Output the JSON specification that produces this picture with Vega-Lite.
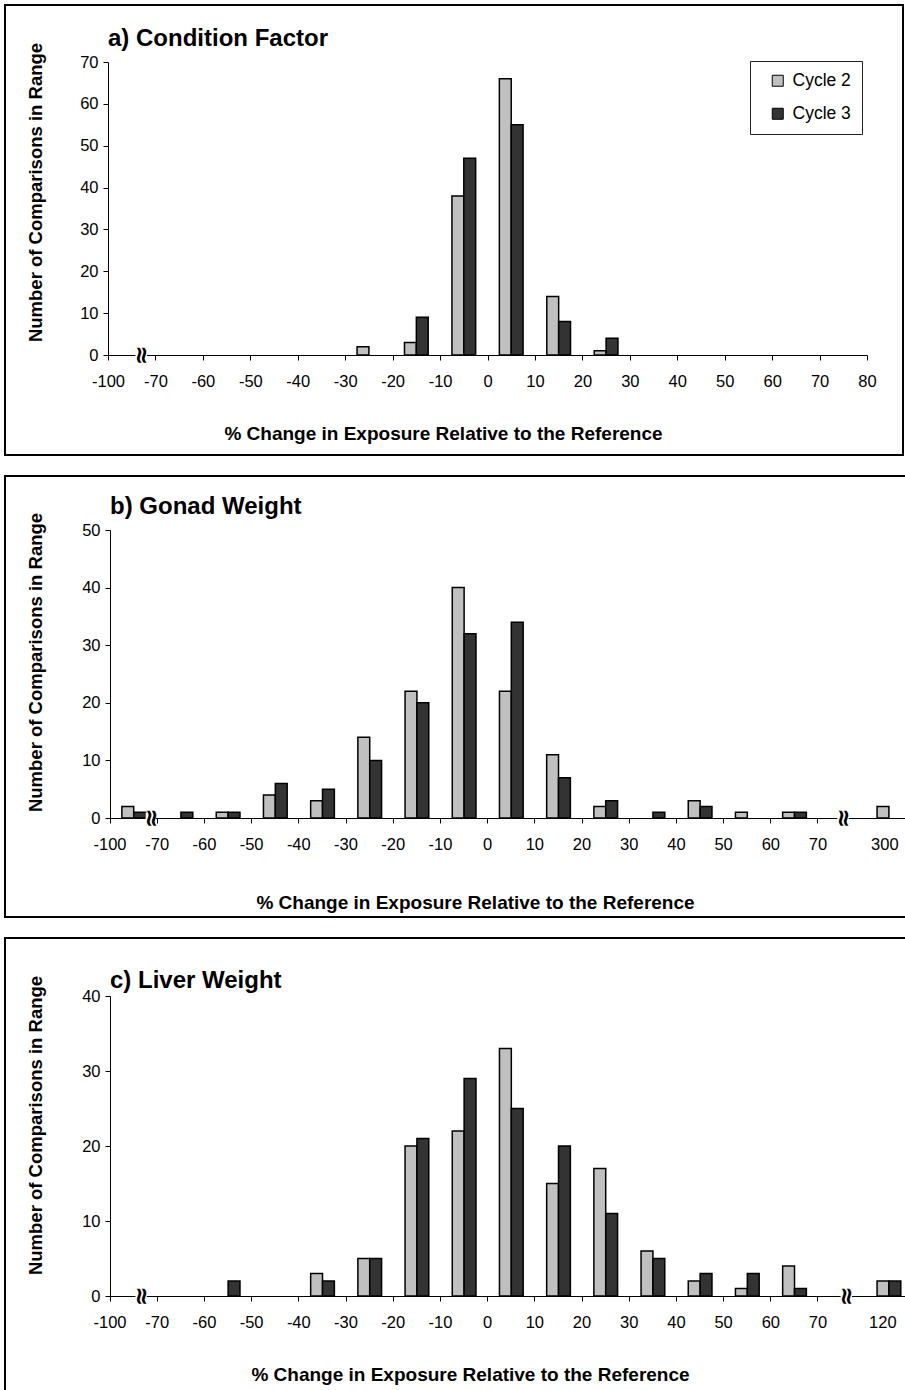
{
  "$schema": "https://vega.github.io/schema/vega-lite/v6.json",
  "padding": {"left": 4, "top": 4, "right": 0, "bottom": 0},
  "background": "white",
  "spacing": 19,
  "config": {
    "view": {"stroke": "black", "strokeWidth": 2},
    "font": "Liberation Sans",
    "axis": {"domainColor": "black", "tickColor": "black", "labelColor": "black", "titleColor": "black", "grid": false, "labelFont": "Liberation Sans", "titleFont": "Liberation Sans", "labelFontSize": 16.5, "tickSize": 5, "titleFontSize": 19, "titleFontWeight": "bold", "labelAngle": 0},
    "legend": {"labelFont": "Liberation Sans", "labelFontSize": 17.5, "labelColor": "black", "symbolType": "square", "symbolSize": 121, "symbolStrokeColor": "black", "symbolStrokeWidth": 1, "symbolOpacity": 1, "padding": 11, "rowPadding": 14, "strokeColor": "#222222", "fillColor": "white", "labelOffset": 6, "symbolOffset": 8},
    "text": {"font": "DejaVu Sans"}
  },
  "datasets": {
    "a": [
      {"bin": "-30", "cycle": "Cycle 2", "n": 2},
      {"bin": "-20", "cycle": "Cycle 2", "n": 3},
      {"bin": "-20", "cycle": "Cycle 3", "n": 9},
      {"bin": "-10", "cycle": "Cycle 2", "n": 38},
      {"bin": "-10", "cycle": "Cycle 3", "n": 47},
      {"bin": "0", "cycle": "Cycle 2", "n": 66},
      {"bin": "0", "cycle": "Cycle 3", "n": 55},
      {"bin": "10", "cycle": "Cycle 2", "n": 14},
      {"bin": "10", "cycle": "Cycle 3", "n": 8},
      {"bin": "20", "cycle": "Cycle 2", "n": 1},
      {"bin": "20", "cycle": "Cycle 3", "n": 4}
    ],
    "b": [
      {"bin": "-100", "cycle": "Cycle 2", "n": 2},
      {"bin": "-100", "cycle": "Cycle 3", "n": 1},
      {"bin": "-70", "cycle": "Cycle 3", "n": 1},
      {"bin": "-60", "cycle": "Cycle 2", "n": 1},
      {"bin": "-60", "cycle": "Cycle 3", "n": 1},
      {"bin": "-50", "cycle": "Cycle 2", "n": 4},
      {"bin": "-50", "cycle": "Cycle 3", "n": 6},
      {"bin": "-40", "cycle": "Cycle 2", "n": 3},
      {"bin": "-40", "cycle": "Cycle 3", "n": 5},
      {"bin": "-30", "cycle": "Cycle 2", "n": 14},
      {"bin": "-30", "cycle": "Cycle 3", "n": 10},
      {"bin": "-20", "cycle": "Cycle 2", "n": 22},
      {"bin": "-20", "cycle": "Cycle 3", "n": 20},
      {"bin": "-10", "cycle": "Cycle 2", "n": 40},
      {"bin": "-10", "cycle": "Cycle 3", "n": 32},
      {"bin": "0", "cycle": "Cycle 2", "n": 22},
      {"bin": "0", "cycle": "Cycle 3", "n": 34},
      {"bin": "10", "cycle": "Cycle 2", "n": 11},
      {"bin": "10", "cycle": "Cycle 3", "n": 7},
      {"bin": "20", "cycle": "Cycle 2", "n": 2},
      {"bin": "20", "cycle": "Cycle 3", "n": 3},
      {"bin": "30", "cycle": "Cycle 3", "n": 1},
      {"bin": "40", "cycle": "Cycle 2", "n": 3},
      {"bin": "40", "cycle": "Cycle 3", "n": 2},
      {"bin": "50", "cycle": "Cycle 2", "n": 1},
      {"bin": "60", "cycle": "Cycle 2", "n": 1},
      {"bin": "60", "cycle": "Cycle 3", "n": 1},
      {"bin": "300", "cycle": "Cycle 2", "n": 2}
    ],
    "c": [
      {"bin": "-60", "cycle": "Cycle 3", "n": 2},
      {"bin": "-40", "cycle": "Cycle 2", "n": 3},
      {"bin": "-40", "cycle": "Cycle 3", "n": 2},
      {"bin": "-30", "cycle": "Cycle 2", "n": 5},
      {"bin": "-30", "cycle": "Cycle 3", "n": 5},
      {"bin": "-20", "cycle": "Cycle 2", "n": 20},
      {"bin": "-20", "cycle": "Cycle 3", "n": 21},
      {"bin": "-10", "cycle": "Cycle 2", "n": 22},
      {"bin": "-10", "cycle": "Cycle 3", "n": 29},
      {"bin": "0", "cycle": "Cycle 2", "n": 33},
      {"bin": "0", "cycle": "Cycle 3", "n": 25},
      {"bin": "10", "cycle": "Cycle 2", "n": 15},
      {"bin": "10", "cycle": "Cycle 3", "n": 20},
      {"bin": "20", "cycle": "Cycle 2", "n": 17},
      {"bin": "20", "cycle": "Cycle 3", "n": 11},
      {"bin": "30", "cycle": "Cycle 2", "n": 6},
      {"bin": "30", "cycle": "Cycle 3", "n": 5},
      {"bin": "40", "cycle": "Cycle 2", "n": 2},
      {"bin": "40", "cycle": "Cycle 3", "n": 3},
      {"bin": "50", "cycle": "Cycle 2", "n": 1},
      {"bin": "50", "cycle": "Cycle 3", "n": 3},
      {"bin": "60", "cycle": "Cycle 2", "n": 4},
      {"bin": "60", "cycle": "Cycle 3", "n": 1},
      {"bin": "120", "cycle": "Cycle 2", "n": 2},
      {"bin": "120", "cycle": "Cycle 3", "n": 2}
    ],
    "brk_left": [{"bin": "-100"}],
    "brk_right": [{"bin": "70"}]
  },
  "vconcat": [
    {
      "width": 898,
      "height": 450,
      "title": {"text": "a) Condition Factor", "anchor": "start", "frame": "group", "dx": 103, "offset": -58, "baseline": "middle", "fontSize": 24, "fontWeight": "bold", "font": "Liberation Sans", "color": "black"},
      "layer": [
        {
          "data": {"name": "a"},
          "mark": {"type": "bar", "stroke": "black", "strokeWidth": 1.5},
          "encoding": {
            "x": {"field": "bin", "type": "ordinal", "sort": null, "scale": {"type": "band", "domain": ["-100","-70","-60","-50","-40","-30","-20","-10","0","10","20","30","40","50","60","70"], "range": [103, 862], "paddingInner": 0, "paddingOuter": 0}, "axis": null},
            "xOffset": {"field": "cycle", "type": "nominal", "scale": {"domain": ["Cycle 2", "Cycle 3"], "paddingInner": 0, "paddingOuter": 1}},
            "y": {"field": "n", "type": "quantitative", "scale": {"domain": [0, 70], "range": [350, 57], "nice": false}, "axis": {"values": [0,10,20,30,40,50,60,70], "offset": -103, "labelPadding": 5, "title": "Number of Comparisons in Range", "titleFontSize": 18.5, "titleX": -73, "titleY": 187, "titleAlign": "center", "titleBaseline": "middle", "titleAngle": -90}},
            "color": {"field": "cycle", "type": "nominal", "scale": {"domain": ["Cycle 2", "Cycle 3"], "range": ["#c0c0c0", "#333333"]}, "legend": {"orient": "none", "legendX": 745, "legendY": 56, "title": null}}
          }
        },
        {
          "data": {"name": "brk_left"},
          "mark": {"type": "point", "shape": "square", "filled": true, "color": "white", "opacity": 1, "size": 130},
          "encoding": {
            "x": {"field": "bin", "type": "ordinal", "sort": null, "bandPosition": 0.7, "scale": {"type": "band", "domain": ["-100","-70","-60","-50","-40","-30","-20","-10","0","10","20","30","40","50","60","70"], "range": [103, 862], "paddingInner": 0, "paddingOuter": 0}, "axis": null},
            "y": {"datum": 0, "type": "quantitative"}
          }
        },
        {
          "data": {"name": "brk_left"},
          "mark": {"type": "text", "text": "≈", "angle": 90, "font": "DejaVu Sans", "fontSize": 24, "fontWeight": "bold", "align": "center", "baseline": "middle", "color": "black"},
          "encoding": {
            "x": {"field": "bin", "type": "ordinal", "sort": null, "bandPosition": 0.7, "scale": {"type": "band", "domain": ["-100","-70","-60","-50","-40","-30","-20","-10","0","10","20","30","40","50","60","70"], "range": [103, 862], "paddingInner": 0, "paddingOuter": 0}, "axis": null},
            "y": {"datum": 0, "type": "quantitative"}
          }
        },
        {
          "data": {"name": "a"},
          "mark": {"type": "text", "text": ""},
          "encoding": {
            "x": {"field": "bin", "type": "ordinal", "sort": null, "scale": {"type": "point", "domain": ["-100","-70","-60","-50","-40","-30","-20","-10","0","10","20","30","40","50","60","70","80"], "range": [103, 862], "padding": 0}, "axis": {"offset": -100, "labelPadding": 13, "title": "% Change in Exposure Relative to the Reference", "titleX": 438, "titleY": 78, "titleAlign": "center", "titleBaseline": "middle"}}
          }
        }
      ],
      "resolve": {"scale": {"x": "independent"}}
    },
    {
      "width": 902,
      "height": 441,
      "title": {"text": "b) Gonad Weight", "anchor": "start", "frame": "group", "dx": 105, "offset": -55, "baseline": "middle", "fontSize": 24, "fontWeight": "bold", "font": "Liberation Sans", "color": "black"},
      "layer": [
        {
          "data": {"name": "b"},
          "mark": {"type": "bar", "stroke": "black", "strokeWidth": 1.5},
          "encoding": {
            "x": {"field": "bin", "type": "ordinal", "sort": null, "scale": {"type": "band", "domain": ["-100","-70","-60","-50","-40","-30","-20","-10","0","10","20","30","40","50","60","70","300"], "range": [105, 907.4], "paddingInner": 0, "paddingOuter": 0}, "axis": {"bandPosition": 0, "offset": -99, "labelPadding": 13, "labelOffset": {"condition": {"test": "datum.value === '300'", "value": -4}, "value": -23.6}, "tickOpacity": {"condition": {"test": "datum.value === '300'", "value": 0}, "value": 1}, "title": "% Change in Exposure Relative to the Reference", "titleX": 470, "titleY": 84, "titleAlign": "center", "titleBaseline": "middle"}},
            "xOffset": {"field": "cycle", "type": "nominal", "scale": {"domain": ["Cycle 2", "Cycle 3"], "paddingInner": 0, "paddingOuter": 1}},
            "y": {"field": "n", "type": "quantitative", "scale": {"domain": [0, 50], "range": [342, 54], "nice": false}, "axis": {"values": [0,10,20,30,40,50], "offset": -105, "labelPadding": 5, "title": "Number of Comparisons in Range", "titleFontSize": 18.5, "titleX": -75, "titleY": 186, "titleAlign": "center", "titleBaseline": "middle", "titleAngle": -90}},
            "color": {"field": "cycle", "type": "nominal", "scale": {"domain": ["Cycle 2", "Cycle 3"], "range": ["#c0c0c0", "#333333"]}, "legend": {"orient": "none", "legendX": 740, "legendY": 54, "title": null}}
          }
        },
        {
          "data": {"name": "brk_left"},
          "mark": {"type": "point", "shape": "square", "filled": true, "color": "white", "opacity": 1, "size": 100},
          "encoding": {
            "x": {"field": "bin", "type": "ordinal", "sort": null, "bandPosition": 0.86, "scale": {"type": "band", "domain": ["-100","-70","-60","-50","-40","-30","-20","-10","0","10","20","30","40","50","60","70","300"], "range": [105, 907.4], "paddingInner": 0, "paddingOuter": 0}},
            "y": {"datum": 0, "type": "quantitative"}
          }
        },
        {
          "data": {"name": "brk_left"},
          "mark": {"type": "text", "text": "≈", "angle": 90, "font": "DejaVu Sans", "fontSize": 24, "fontWeight": "bold", "align": "center", "baseline": "middle", "color": "black"},
          "encoding": {
            "x": {"field": "bin", "type": "ordinal", "sort": null, "bandPosition": 0.86, "scale": {"type": "band", "domain": ["-100","-70","-60","-50","-40","-30","-20","-10","0","10","20","30","40","50","60","70","300"], "range": [105, 907.4], "paddingInner": 0, "paddingOuter": 0}},
            "y": {"datum": 0, "type": "quantitative"}
          }
        },
        {
          "data": {"name": "brk_right"},
          "mark": {"type": "point", "shape": "square", "filled": true, "color": "white", "opacity": 1, "size": 130},
          "encoding": {
            "x": {"field": "bin", "type": "ordinal", "sort": null, "bandPosition": 0.53, "scale": {"type": "band", "domain": ["-100","-70","-60","-50","-40","-30","-20","-10","0","10","20","30","40","50","60","70","300"], "range": [105, 907.4], "paddingInner": 0, "paddingOuter": 0}},
            "y": {"datum": 0, "type": "quantitative"}
          }
        },
        {
          "data": {"name": "brk_right"},
          "mark": {"type": "text", "text": "≈", "angle": 90, "font": "DejaVu Sans", "fontSize": 24, "fontWeight": "bold", "align": "center", "baseline": "middle", "color": "black"},
          "encoding": {
            "x": {"field": "bin", "type": "ordinal", "sort": null, "bandPosition": 0.53, "scale": {"type": "band", "domain": ["-100","-70","-60","-50","-40","-30","-20","-10","0","10","20","30","40","50","60","70","300"], "range": [105, 907.4], "paddingInner": 0, "paddingOuter": 0}},
            "y": {"datum": 0, "type": "quantitative"}
          }
        }
      ]
    },
    {
      "width": 902,
      "height": 458,
      "title": {"text": "c) Liver Weight", "anchor": "start", "frame": "group", "dx": 105, "offset": -67, "baseline": "middle", "fontSize": 24, "fontWeight": "bold", "font": "Liberation Sans", "color": "black"},
      "layer": [
        {
          "data": {"name": "c"},
          "mark": {"type": "bar", "stroke": "black", "strokeWidth": 1.5},
          "encoding": {
            "x": {"field": "bin", "type": "ordinal", "sort": null, "scale": {"type": "band", "domain": ["-100","-70","-60","-50","-40","-30","-20","-10","0","10","20","30","40","50","60","70","120"], "range": [105, 907.4], "paddingInner": 0, "paddingOuter": 0}, "axis": {"bandPosition": 0, "offset": -100, "labelPadding": 13, "labelOffset": {"condition": {"test": "datum.value === '120'", "value": -6}, "value": -23.6}, "tickOpacity": {"condition": {"test": "datum.value === '120'", "value": 0}, "value": 1}, "title": "% Change in Exposure Relative to the Reference", "titleX": 465, "titleY": 78, "titleAlign": "center", "titleBaseline": "middle"}},
            "xOffset": {"field": "cycle", "type": "nominal", "scale": {"domain": ["Cycle 2", "Cycle 3"], "paddingInner": 0, "paddingOuter": 1}},
            "y": {"field": "n", "type": "quantitative", "scale": {"domain": [0, 40], "range": [358, 58], "nice": false}, "axis": {"values": [0,10,20,30,40], "offset": -105, "labelPadding": 5, "title": "Number of Comparisons in Range", "titleFontSize": 18.5, "titleX": -75, "titleY": 187, "titleAlign": "center", "titleBaseline": "middle", "titleAngle": -90}},
            "color": {"field": "cycle", "type": "nominal", "scale": {"domain": ["Cycle 2", "Cycle 3"], "range": ["#c0c0c0", "#333333"]}, "legend": {"orient": "none", "legendX": 750, "legendY": 62, "title": null}}
          }
        },
        {
          "data": {"name": "brk_left"},
          "mark": {"type": "point", "shape": "square", "filled": true, "color": "white", "opacity": 1, "size": 130},
          "encoding": {
            "x": {"field": "bin", "type": "ordinal", "sort": null, "bandPosition": 0.66, "scale": {"type": "band", "domain": ["-100","-70","-60","-50","-40","-30","-20","-10","0","10","20","30","40","50","60","70","120"], "range": [105, 907.4], "paddingInner": 0, "paddingOuter": 0}},
            "y": {"datum": 0, "type": "quantitative"}
          }
        },
        {
          "data": {"name": "brk_left"},
          "mark": {"type": "text", "text": "≈", "angle": 90, "font": "DejaVu Sans", "fontSize": 24, "fontWeight": "bold", "align": "center", "baseline": "middle", "color": "black"},
          "encoding": {
            "x": {"field": "bin", "type": "ordinal", "sort": null, "bandPosition": 0.66, "scale": {"type": "band", "domain": ["-100","-70","-60","-50","-40","-30","-20","-10","0","10","20","30","40","50","60","70","120"], "range": [105, 907.4], "paddingInner": 0, "paddingOuter": 0}},
            "y": {"datum": 0, "type": "quantitative"}
          }
        },
        {
          "data": {"name": "brk_right"},
          "mark": {"type": "point", "shape": "square", "filled": true, "color": "white", "opacity": 1, "size": 130},
          "encoding": {
            "x": {"field": "bin", "type": "ordinal", "sort": null, "bandPosition": 0.6, "scale": {"type": "band", "domain": ["-100","-70","-60","-50","-40","-30","-20","-10","0","10","20","30","40","50","60","70","120"], "range": [105, 907.4], "paddingInner": 0, "paddingOuter": 0}},
            "y": {"datum": 0, "type": "quantitative"}
          }
        },
        {
          "data": {"name": "brk_right"},
          "mark": {"type": "text", "text": "≈", "angle": 90, "font": "DejaVu Sans", "fontSize": 24, "fontWeight": "bold", "align": "center", "baseline": "middle", "color": "black"},
          "encoding": {
            "x": {"field": "bin", "type": "ordinal", "sort": null, "bandPosition": 0.6, "scale": {"type": "band", "domain": ["-100","-70","-60","-50","-40","-30","-20","-10","0","10","20","30","40","50","60","70","120"], "range": [105, 907.4], "paddingInner": 0, "paddingOuter": 0}},
            "y": {"datum": 0, "type": "quantitative"}
          }
        }
      ]
    }
  ]
}
